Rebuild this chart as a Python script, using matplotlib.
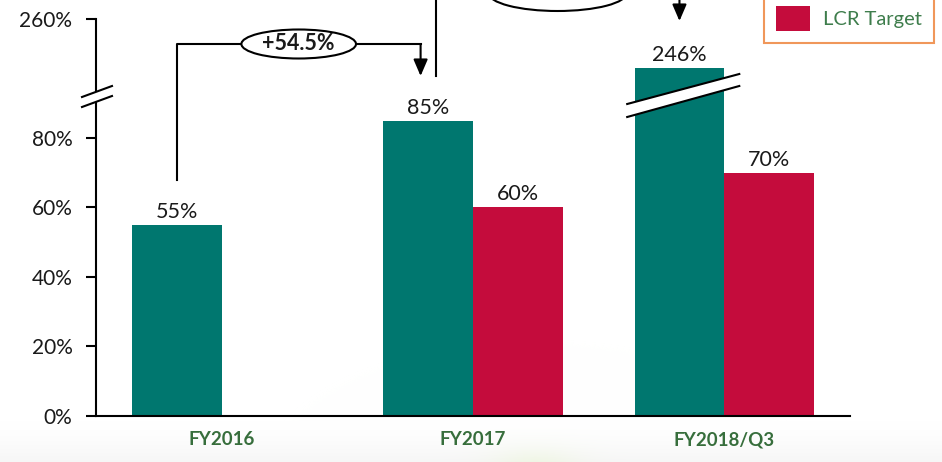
import numpy as np
import matplotlib
matplotlib.use("Agg")
import matplotlib.pyplot as plt
from matplotlib.patches import Ellipse, Polygon, Patch
from matplotlib.lines import Line2D
from matplotlib.transforms import blended_transform_factory

# ── data ─────────────────────────────────────────────────────────────────────
categories = ["FY2016", "FY2017", "FY2018/Q3"]
lcr_actual = [55, 85, 246]
lcr_target = [np.nan, 60, 70]
growth_labels = ["+54.5%", "+189.4%"]
y_ticks = [0, 20, 40, 60, 80, 260]
series_names = ["LCR", "LCR Target"]

# ── style ────────────────────────────────────────────────────────────────────
TEAL = "#00776F"
RED = "#C40C3C"
GREEN = "#376E3C"
LEG_GREEN = "#3E7D4C"
ORANGE = "#ED7D31"
INK = "#1A1A1A"

W, H = 942, 462
plt.rcParams["font.family"] = ["Lato", "DejaVu Sans"]


def fx(p):
    return p / W


def fy(p):
    # pixel measured from the top -> figure fraction
    return 1 - p / H


fig = plt.figure(figsize=(W / 100, H / 100), dpi=100)
fig.patch.set_facecolor("white")

# faint slide watermark along the bottom edge
bg = fig.add_axes([0, 0, 1, 1], zorder=-10)
bg.axis("off")
yy, xx = np.mgrid[0:H, 0:W]
shade = np.clip((yy - 420) / 42.0, 0, 1) ** 1.5 * 0.035
glow = np.exp(-(((xx - 535) / 45.0) ** 2 + ((yy - 472) / 22.0) ** 2)) * 0.5
img = np.ones((H, W, 3))
img -= shade[..., None]
img = img * (1 - glow[..., None]) + np.array([0.90, 0.96, 0.80]) * glow[..., None]
bg.imshow(np.clip(img, 0, 1), extent=(0, W, H, 0), aspect="auto")

ax = fig.add_axes([fx(96), fy(416), fx(850 - 96), (416 - 19) / H])
ax.set_facecolor("none")

# broken y axis: everything above the break is squeezed
Y_KNOTS = [0, 92, 246, 260]
Y_POS = [0, 92, 100.1, 114.2]
ax.set_yscale("function", functions=(lambda v: np.interp(v, Y_KNOTS, Y_POS),
                                     lambda v: np.interp(v, Y_POS, Y_KNOTS)))

x = np.arange(len(categories))
bw = 0.357
ax.bar(x - bw / 2, lcr_actual, bw, color=TEAL, zorder=2)
ax.bar(x + bw / 2, lcr_target, bw, color=RED, zorder=2)

for xs, vals in ((x - bw / 2, lcr_actual), (x + bw / 2, lcr_target)):
    for xi, v in zip(xs, vals):
        if np.isnan(v):
            continue
        ax.annotate(f"{v:.0f}%", (xi, v), xytext=(0, 5), textcoords="offset points",
                    ha="center", va="baseline", fontsize=15.5, color=INK)

ax.set_xlim(-0.5, 2.5)
ax.set_ylim(0, 260)
ax.set_yticks(y_ticks)
ax.set_yticklabels([f"{t}%" for t in y_ticks])
ax.set_xticks(x)
ax.set_xticklabels(categories, fontweight="bold", color=GREEN, fontsize=13.5)
ax.tick_params(axis="x", length=0, pad=11)
ax.tick_params(axis="y", length=7, width=1.5, pad=10, labelsize=15, labelcolor=INK)
for s in ("top", "right"):
    ax.spines[s].set_visible(False)
for s in ("left", "bottom"):
    ax.spines[s].set_linewidth(1.5)


# ── break marks ──────────────────────────────────────────────────────────────
def break_mark(p_upper, p_lower, transform):
    band = Polygon([p_upper[0], p_upper[1], p_lower[1], p_lower[0]], closed=True,
                   facecolor="white", edgecolor="none", transform=transform, zorder=4)
    fig.add_artist(band)
    for (xa, ya), (xb, yb) in (p_upper, p_lower):
        fig.add_artist(Line2D([xa, xb], [ya, yb], color="k", lw=1.5,
                              transform=transform, zorder=5))


# on the axis
break_mark(((fx(82), fy(97)), (fx(112), fy(86))),
           ((fx(82), fy(107)), (fx(112), fy(96))), fig.transFigure)

bl = blended_transform_factory(ax.transData, fig.transFigure)
c3 = x[2] - bw / 2
break_mark(((c3 - 0.208, fy(104)), (c3 + 0.238, fy(74))),
           ((c3 - 0.208, fy(117)), (c3 + 0.238, fy(86))), bl)

# ── growth arrows ────────────────────────────────────────────────────────────
arrows = [
    # x start, x end, y bottom of start, y of run, y tip, ellipse w, ellipse h, text y
    (x[0] - bw / 2, x[1] - bw / 2 - 0.03, 180, 44, 76, 0.456, 29, 44),
    (x[1] - bw / 2 + 0.03, x[2] - bw / 2, 76, -7, 21, 0.55, 36, -22),
]
for (xa, xb, y0, yr, ytip, ew, eh, ty), lab in zip(arrows, growth_labels):
    fig.add_artist(Line2D([xa, xa, xb], [fy(y0), fy(yr), fy(yr)], color="k",
                          lw=1.5, transform=bl, zorder=5))
    ax.annotate("", xy=(xb, fy(ytip)), xycoords=bl, xytext=(xb, fy(yr)),
                textcoords=bl, annotation_clip=False,
                arrowprops=dict(arrowstyle="-|>,head_length=1.0,head_width=0.43",
                                mutation_scale=10, color="k", lw=1.5,
                                shrinkA=0, shrinkB=0))
    mid = (xa + xb) / 2
    fig.add_artist(Ellipse((mid, fy(yr)), ew, eh / H, transform=bl,
                           facecolor="white", edgecolor="k", lw=1.5, zorder=6))
    fig.text(mid, fy(ty), lab, transform=bl, ha="center", va="center",
             fontsize=15.5, fontweight="bold", color=INK, zorder=7)

# ── legend (top row falls outside the crop) ─────────────────────────────────
leg = fig.legend(handles=[Patch(facecolor=TEAL), Patch(facecolor=RED)],
                 labels=series_names, loc="lower right",
                 bbox_to_anchor=(fx(934), fy(43)), bbox_transform=fig.transFigure,
                 frameon=True, fancybox=False, edgecolor=ORANGE, fontsize=14.5,
                 handlelength=1.65, handleheight=1.5, handletextpad=0.65,
                 labelspacing=2.3, borderpad=0.62, borderaxespad=0,
                 labelcolor=LEG_GREEN)
leg.get_frame().set_linewidth(1.5)

fig.savefig("out.png", dpi=100)
